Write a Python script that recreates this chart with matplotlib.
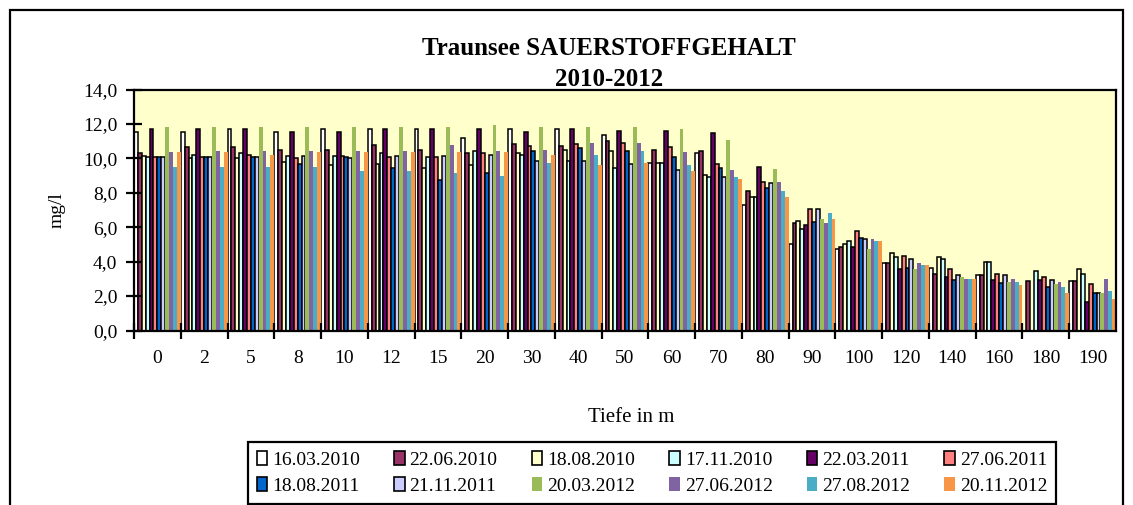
import matplotlib
matplotlib.use('Agg')
import matplotlib.pyplot as plt
import matplotlib.patches as mpatches
import numpy as np

plt.rcParams['font.family'] = ['Liberation Serif', 'DejaVu Serif']

# depths (m) and sampling dates
depths = ['0', '2', '5', '8', '10', '12', '15', '20', '30', '40', '50',
          '60', '70', '80', '90', '100', '120', '140', '160', '180', '190']
dates = ['16.03.2010', '22.06.2010', '18.08.2010', '17.11.2010', '22.03.2011', '27.06.2011',
         '18.08.2011', '21.11.2011', '20.03.2012', '27.06.2012', '27.08.2012', '20.11.2012']

nan = np.nan
o2_16_03_2010 = [11.55, 11.55, 11.7, 11.55, 11.7, 11.7, 11.7, 11.2, 11.7, 11.7, 11.35, 9.75, 10.3, 7.3, 5.05, 4.75, 3.9, 3.65, 3.2, nan, 2.9]
o2_22_06_2010 = [10.3, 10.65, 10.65, 10.5, 10.5, 10.8, 10.5, 10.3, 10.85, 10.7, 11.0, 10.5, 10.45, 8.1, 6.25, 4.85, 3.9, 3.3, 3.2, 2.9, 2.9]
o2_18_08_2010 = [10.15, 10.0, 10.0, 9.8, 9.6, 9.7, 9.45, 9.6, 10.3, 10.5, 10.45, 9.75, 9.05, 7.75, 6.35, 5.05, 4.5, 4.25, 4.0, nan, 3.55]
o2_17_11_2010 = [10.05, 10.2, 10.3, 10.15, 10.15, 10.3, 10.05, 10.4, 10.2, 9.85, 9.45, 9.75, 8.9, 7.75, 5.9, 5.2, 4.25, 4.15, 4.0, 3.45, 3.3]
o2_22_03_2011 = [11.7, 11.7, 11.7, 11.55, 11.55, 11.7, 11.7, 11.7, 11.55, 11.7, 11.6, 11.6, 11.45, 9.5, 6.15, 4.85, 3.55, 3.1, 2.95, 2.95, 1.65]
o2_27_06_2011 = [10.05, 10.05, 10.2, 10.0, 10.15, 10.05, 10.05, 10.3, 10.7, 10.85, 10.9, 10.65, 9.7, 8.65, 7.05, 5.8, 4.35, 3.55, 3.3, 3.1, 2.7]
o2_18_08_2011 = [10.05, 10.05, 10.05, 9.7, 10.05, 9.45, 8.75, 9.15, 10.4, 10.6, 10.45, 10.05, 9.45, 8.3, 6.3, 5.4, 3.65, 2.95, 2.75, 2.5, 2.2]
o2_21_11_2011 = [10.05, 10.05, 10.05, 10.15, 10.0, 10.15, 10.15, 10.2, 9.85, 9.85, 9.7, 9.3, 8.9, 8.55, 7.05, 5.3, 4.15, 3.2, 3.2, 2.95, 2.15]
o2_20_03_2012 = [11.85, 11.85, 11.85, 11.85, 11.85, 11.85, 11.85, 11.95, 11.85, 11.85, 11.85, 11.7, 11.05, 9.4, 6.5, 4.75, 3.55, 3.1, 2.8, 2.7, 2.2]
o2_27_06_2012 = [10.35, 10.45, 10.45, 10.45, 10.45, 10.45, 10.8, 10.45, 10.5, 10.9, 10.9, 10.35, 9.3, 8.6, 6.25, 5.3, 3.9, 3.0, 3.0, 2.8, 3.0]
o2_27_08_2012 = [9.5, 9.5, 9.5, 9.5, 9.25, 9.25, 9.15, 9.0, 9.75, 10.2, 10.45, 9.6, 8.9, 8.1, 6.85, 5.2, 3.8, 3.0, 2.8, 2.55, 2.3]
o2_20_11_2012 = [10.35, 10.35, 10.2, 10.35, 10.35, 10.35, 10.35, 10.35, 10.2, 9.6, 9.75, 9.25, 8.8, 7.75, 6.5, 5.2, 3.8, 3.0, 2.65, 2.2, 1.85]

series = [o2_16_03_2010, o2_22_06_2010, o2_18_08_2010, o2_17_11_2010,
          o2_22_03_2011, o2_27_06_2011, o2_18_08_2011, o2_21_11_2011,
          o2_20_03_2012, o2_27_06_2012, o2_27_08_2012, o2_20_11_2012]

colors = ['#FFFFFF', '#993366', '#FFFFCC', '#CCFFFF', '#660066', '#FF8080',
          '#0066CC', '#CCCCFF', '#9BBB59', '#8064A2', '#4BACC6', '#F79646']
edged = [True] * 8 + [False] * 4

W, H = 1133, 505
fig = plt.figure(figsize=(W / 100, H / 100), dpi=100)
fig.patch.set_facecolor('white')

# outer chart frame
fig.patches.append(mpatches.Rectangle((10 / W, -0.05), 1113 / W, 1 - 10 / H + 0.05,
                                      transform=fig.transFigure, fill=False,
                                      edgecolor='black', linewidth=1.6))

ax = fig.add_axes([134 / W, 1 - 330.5 / H, (1116 - 134) / W, 241 / H])
ax.set_facecolor('#FFFFCC')

n = len(series)
x = np.arange(len(depths))
bw = 1.0 / n
for i, vals in enumerate(series):
    pos = x - 0.5 + (i + 0.5) * bw
    if edged[i]:
        ax.bar(pos, vals, width=bw, color=colors[i], edgecolor='black', linewidth=1.1,
               label=dates[i])
    else:
        ax.bar(pos, vals, width=bw, color=colors[i], linewidth=0, label=dates[i])

ax.set_xlim(-0.5, len(depths) - 0.5)
ax.set_ylim(0, 14)
ax.set_yticks(np.arange(0, 14.1, 2))
ax.set_yticklabels([f'{v:.1f}'.replace('.', ',') for v in np.arange(0, 14.1, 2)])
ax.set_xticks(x - 0.5, minor=False)
ax.set_xticklabels([''] * len(x))
ax.set_xticks(x, minor=True)
ax.set_xticklabels(depths, minor=True)
ax.tick_params(axis='x', which='major', direction='inout', length=12, width=1.6)
ax.tick_params(axis='x', which='minor', length=0, pad=14, labelsize=14)
ax.tick_params(axis='y', direction='inout', length=12, width=1.6, pad=6, labelsize=14)
for s in ax.spines.values():
    s.set_linewidth(1.6)
    s.set_color('black')

fig.text(609 / W, 1 - 64 / H, 'Traunsee SAUERSTOFFGEHALT\n2010-2012', ha='center',
         va='center', fontsize=18, fontweight='bold', linespacing=1.45)
fig.text(57 / W, 1 - 210 / H, 'mg/l', rotation=90, ha='center', va='center', fontsize=14)
fig.text(631 / W, 1 - 418 / H, 'Tiefe in m', ha='center', va='center', fontsize=15)

# legend: 2 rows x 6 columns, filled row by row
handles = [mpatches.Patch(facecolor=colors[i], edgecolor='black' if edged[i] else colors[i],
                          linewidth=1.2 if edged[i] else 0) for i in range(n)]
order = [j * 6 + k for k in range(6) for j in range(2)]
leg = fig.legend([handles[i] for i in order], [dates[i] for i in order], ncol=6, loc='center',
                 bbox_to_anchor=(652 / W, 1 - 473 / H),
                 fontsize=14, frameon=True, fancybox=False, framealpha=1,
                 handlelength=0.55, handleheight=0.7, handletextpad=0.25,
                 columnspacing=1.75, labelspacing=0.45, borderpad=0.45)
leg.get_frame().set_edgecolor('black')
leg.get_frame().set_linewidth(1.6)

fig.savefig('out.png', dpi=100)
